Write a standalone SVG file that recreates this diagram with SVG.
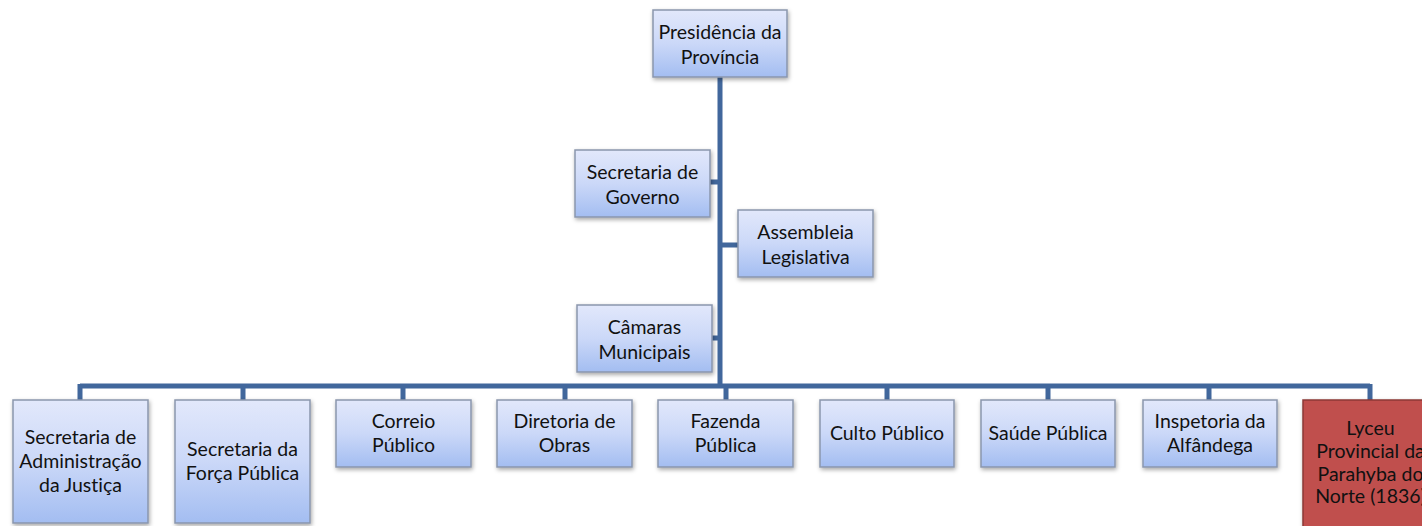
<svg xmlns="http://www.w3.org/2000/svg" width="1422" height="526" viewBox="0 0 1422 526">
<defs>
<linearGradient id="bg" x1="0" y1="0" x2="0" y2="1">
<stop offset="0" stop-color="#e2e8fb"/>
<stop offset="0.5" stop-color="#cbd8f8"/>
<stop offset="1" stop-color="#a3bdf1"/>
</linearGradient>
<filter id="sh" x="-10%" y="-10%" width="125%" height="130%">
<feDropShadow dx="1" dy="2" stdDeviation="2" flood-color="#000" flood-opacity="0.35"/>
</filter>
</defs>
<style>
.b{fill:url(#bg);stroke:#8a96ad;stroke-width:1.5;filter:url(#sh)}
.r{fill:#c0504d;stroke:#8c3836;stroke-width:1.5;filter:url(#sh)}
text{font-family:Lato,"Open Sans","Liberation Sans",sans-serif;font-size:19.5px;fill:#111;text-anchor:middle;font-variant-ligatures:none}
.c{stroke:#41679c;stroke-width:5;fill:none}
</style>
<g id="connectors">
<path class="c" d="M720,77V386M710,182H720M720,245H738M712,338H720M80,386H1370M80,384V400M243,384V400M403,384V400M565,384V400M726,384V400M887,384V400M1048,384V400M1209,384V400M1370,384V400"/>
</g>
<g id="presidencia"><rect class="b" x="653" y="10" width="134" height="67"/><text x="720" y="39">Presidência da</text><text x="720" y="64">Província</text></g>
<g id="sec-governo"><rect class="b" x="575" y="150" width="135" height="67"/><text x="642.5" y="179">Secretaria de</text><text x="642.5" y="204">Governo</text></g>
<g id="assembleia"><rect class="b" x="738" y="210" width="135" height="67"/><text x="805.5" y="239">Assembleia</text><text x="805.5" y="264">Legislativa</text></g>
<g id="camaras"><rect class="b" x="577" y="305" width="135" height="67"/><text x="644.5" y="334">Câmaras</text><text x="644.5" y="359">Municipais</text></g>
<g id="sec-justica"><rect class="b" x="13" y="400" width="135" height="123"/><text x="80.5" y="444">Secretaria de</text><text x="80.5" y="468">Administração</text><text x="80.5" y="492">da Justiça</text></g>
<g id="sec-forca"><rect class="b" x="175" y="400" width="135" height="123"/><text x="242.5" y="456">Secretaria da</text><text x="242.5" y="480">Força Pública</text></g>
<g id="correio"><rect class="b" x="336" y="400" width="135" height="67"/><text x="403.5" y="428">Correio</text><text x="403.5" y="452">Público</text></g>
<g id="diretoria"><rect class="b" x="497" y="400" width="135" height="67"/><text x="564.5" y="428">Diretoria de</text><text x="564.5" y="452">Obras</text></g>
<g id="fazenda"><rect class="b" x="658" y="400" width="135" height="67"/><text x="725.5" y="428">Fazenda</text><text x="725.5" y="452">Pública</text></g>
<g id="culto"><rect class="b" x="820" y="400" width="134" height="67"/><text x="887" y="440">Culto Público</text></g>
<g id="saude"><rect class="b" x="981" y="400" width="134" height="67"/><text x="1048" y="440">Saúde Pública</text></g>
<g id="inspetoria"><rect class="b" x="1143" y="400" width="134" height="67"/><text x="1210" y="428">Inspetoria da</text><text x="1210" y="452">Alfândega</text></g>
<g id="lyceu"><rect class="r" x="1303" y="400" width="135" height="130"/><text x="1370.5" y="435">Lyceu</text><text x="1370.5" y="458">Provincial da</text><text x="1370.5" y="481">Parahyba do</text><text x="1370.5" y="503">Norte (1836)</text></g>
</svg>
